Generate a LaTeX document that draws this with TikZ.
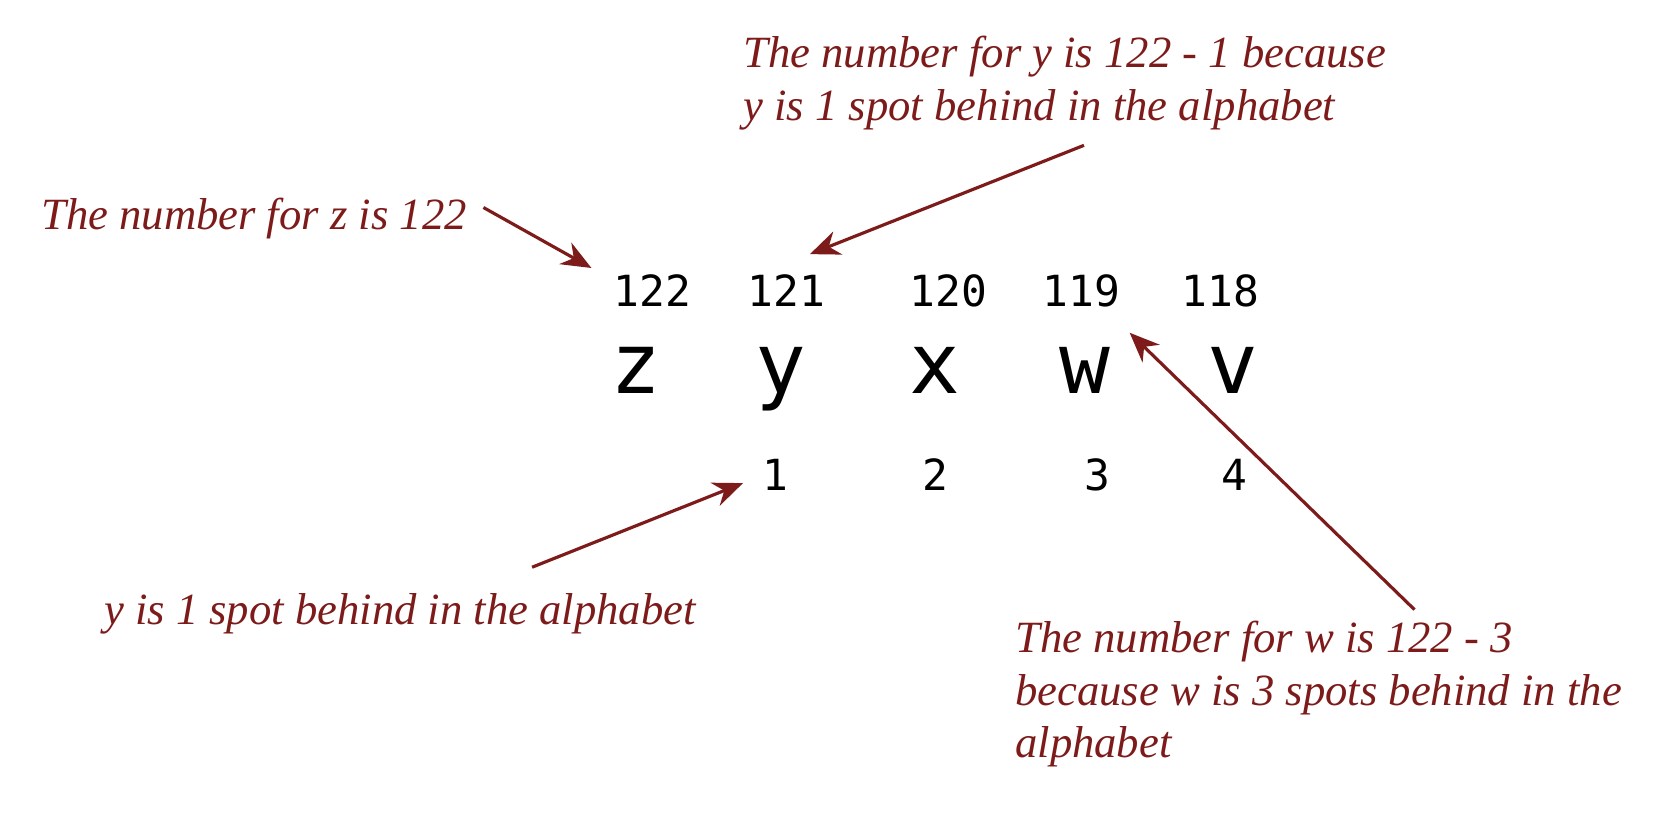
\documentclass[tikz,border=0pt]{standalone}
\usepackage{fontspec}
\setmainfont{Liberation Serif}
\newfontfamily\codefont{DejaVu Sans Mono}
\usetikzlibrary{arrows.meta}
\definecolor{notecolor}{RGB}{125,27,27}
\tikzset{
  note/.style={text=notecolor, font=\itshape\fontsize{12.7}{15}\selectfont, align=left, inner sep=0pt},
  num/.style={font=\codefont\fontsize{12.2}{14}\selectfont, anchor=base},
  letter/.style={font=\codefont\fontsize{24}{27}\selectfont, anchor=base},
  pointer/.style={draw=notecolor, line width=0.9pt, -{Stealth[length=8.5pt,width=7pt]}}
}
\begin{document}
\begin{tikzpicture}[x=0.010657cm,y=-0.010657cm]
    \useasboundingbox (0,0) rectangle (1568,765);
    % numbers above the letters
    \node[num] (n122) at (612,288) {122};
    \node[num] (n121) at (738,288) {121};
    \node[num] (n120) at (890,288) {120};
    \node[num] (n119) at (1015,288) {119};
    \node[num] (n118) at (1145,288) {118};
    % letters
    \node[letter] (lz) at (597,369) {z};
    \node[letter] (ly) at (733,369) {y};
    \node[letter] (lx) at (877,369) {x};
    \node[letter] (lw) at (1018,369) {w};
    \node[letter] (lv) at (1157,369) {v};
    % spots behind
    \node[num] (i1) at (728,460) {1};
    \node[num] (i2) at (878,460) {2};
    \node[num] (i3) at (1030,460) {3};
    \node[num] (i4) at (1158,460) {4};

    % notes
    \node[note, anchor=base west] (zlabel) at (38,215) {The number for z is 122};
    \node[note, anchor=north west] (ylabel) at (697,33) {The number for y is 122 - 1 because\\y is 1 spot behind in the alphabet};
    \node[note, anchor=base west] (onelabel) at (97,586) {y is 1 spot behind in the alphabet};
    \node[note, anchor=north west] (wlabel) at (952,582) {The number for w is 122 - 3\\because w is 3 spots behind in the\\alphabet};

    % arrows
    \draw[pointer] ([shift={(15,-10)}]zlabel.east) -- ([shift={(-9,5)}]n122.north west);
    \draw[pointer] ([shift={(18,14)}]ylabel.south) -- ([shift={(-26,-8)}]n121.north east);
    \draw[pointer] ([shift={(124,-24)}]onelabel.north) -- ([shift={(-7,8)}]i1.west);
    \draw[pointer] ([shift={(90,-10)}]wlabel.north) -- ([shift={(-3,12)}]n119.south east);
\end{tikzpicture}
\end{document}
